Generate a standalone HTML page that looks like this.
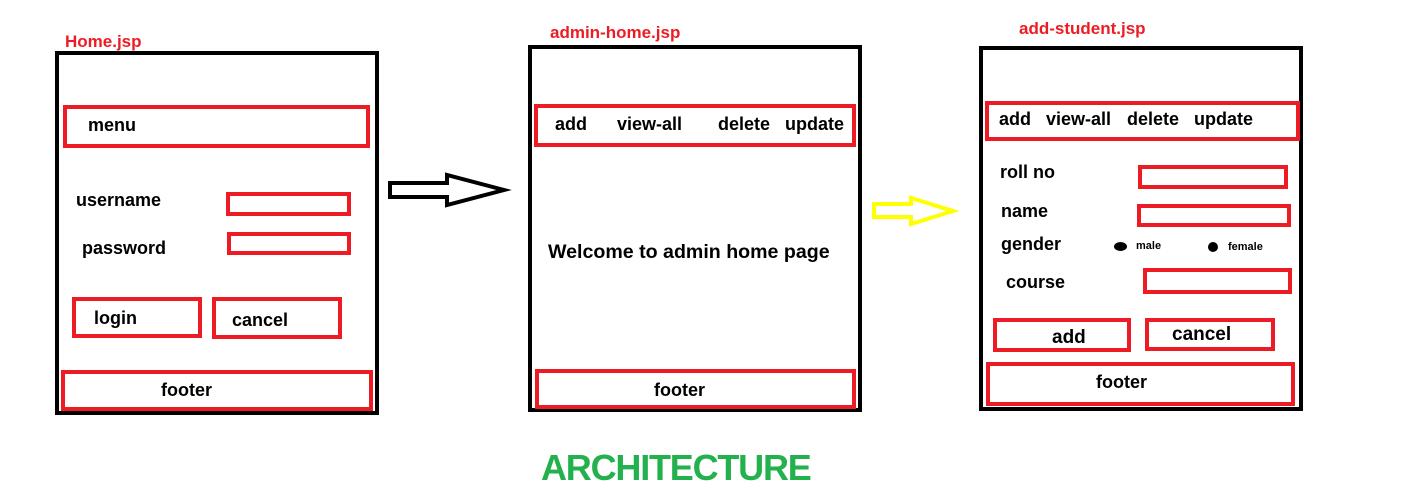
<!DOCTYPE html><html><head><style>
body{margin:0;width:1402px;height:495px;background:#fff;position:relative;overflow:hidden;font-family:"Liberation Sans",sans-serif;font-weight:bold}
.b{position:absolute;border:4px solid #000;box-sizing:border-box}
.r{position:absolute;border:4px solid #ed1c24;box-sizing:border-box}
.t{position:absolute;font-size:18px;color:#000;white-space:nowrap;line-height:1}
.h{position:absolute;font-size:17px;color:#ed1c24;line-height:1}
</style></head><body>
<div class="h" style="left:65px;top:33px">Home.jsp</div>
<div class="b" style="left:55px;top:51px;width:324px;height:364px"></div>
<div class="r" style="left:63px;top:105px;width:307px;height:43px"></div>
<div class="t" style="left:88px;top:116px">menu</div>
<div class="t" style="left:76px;top:191px">username</div>
<div class="r" style="left:226px;top:192px;width:125px;height:24px"></div>
<div class="t" style="left:82px;top:239px">password</div>
<div class="r" style="left:227px;top:232px;width:124px;height:23px"></div>
<div class="r" style="left:72px;top:297px;width:130px;height:41px"></div>
<div class="t" style="left:94px;top:309px">login</div>
<div class="r" style="left:212px;top:297px;width:130px;height:42px"></div>
<div class="t" style="left:232px;top:311px">cancel</div>
<div class="r" style="left:61px;top:370px;width:312px;height:41px"></div>
<div class="t" style="left:161px;top:381px">footer</div>

<div class="h" style="left:550px;top:24px">admin-home.jsp</div>
<div class="b" style="left:528px;top:45px;width:334px;height:367px"></div>
<div class="r" style="left:534px;top:104px;width:322px;height:43px"></div>
<div class="t" style="left:555px;top:115px">add</div>
<div class="t" style="left:617px;top:115px">view-all</div>
<div class="t" style="left:718px;top:115px">delete</div>
<div class="t" style="left:785px;top:115px">update</div>
<div class="t" style="left:548px;top:243px;font-size:19.6px">Welcome to admin home page</div>
<div class="r" style="left:535px;top:369px;width:321px;height:40px"></div>
<div class="t" style="left:654px;top:381px">footer</div>

<div class="h" style="left:1019px;top:20px">add-student.jsp</div>
<div class="b" style="left:979px;top:46px;width:324px;height:365px"></div>
<div class="r" style="left:985px;top:101px;width:315px;height:40px"></div>
<div class="t" style="left:999px;top:110px">add</div>
<div class="t" style="left:1046px;top:110px">view-all</div>
<div class="t" style="left:1127px;top:110px">delete</div>
<div class="t" style="left:1194px;top:110px">update</div>
<div class="t" style="left:1000px;top:163px">roll no</div>
<div class="r" style="left:1138px;top:165px;width:150px;height:24px"></div>
<div class="t" style="left:1001px;top:202px">name</div>
<div class="r" style="left:1137px;top:204px;width:154px;height:23px"></div>
<div class="t" style="left:1001px;top:235px">gender</div>
<div style="position:absolute;left:1114px;top:242px;width:13px;height:9px;border-radius:50%;background:#000"></div>
<div class="t" style="left:1136px;top:241px;font-size:11px">male</div>
<div style="position:absolute;left:1208px;top:242px;width:10px;height:10px;border-radius:50%;background:#000"></div>
<div class="t" style="left:1228px;top:242px;font-size:11px">female</div>
<div class="t" style="left:1006px;top:273px">course</div>
<div class="r" style="left:1143px;top:268px;width:149px;height:26px"></div>
<div class="r" style="left:993px;top:318px;width:138px;height:34px"></div>
<div class="t" style="left:1052px;top:328px;font-size:19px">add</div>
<div class="r" style="left:1145px;top:318px;width:130px;height:33px"></div>
<div class="t" style="left:1172px;top:325px;font-size:19px">cancel</div>
<div class="r" style="left:986px;top:362px;width:309px;height:44px"></div>
<div class="t" style="left:1096px;top:373px">footer</div>

<svg style="position:absolute;left:0;top:0" width="1402" height="495">
<polygon points="390,183 447,183 447,175 504,190 447,205 447,197 390,197" fill="none" stroke="#000" stroke-width="4"/>
<polygon points="874,204 911,204 911,198 953,211 911,224 911,217 874,217" fill="none" stroke="#ffff00" stroke-width="4"/>
</svg>
<div style="position:absolute;left:541px;top:450px;font-size:36px;color:#22b14c;line-height:1;letter-spacing:-1.2px">ARCHITECTURE</div>
</body></html>
